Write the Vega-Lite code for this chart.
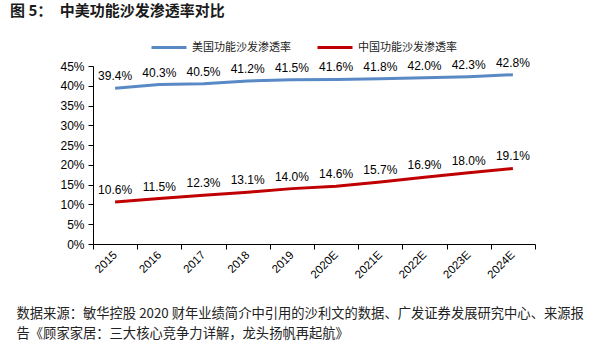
{
  "$schema": "https://vega.github.io/schema/vega-lite/v6.json",
  "width": 442,
  "height": 178,
  "autosize": {"type": "none"},
  "padding": {"left": 93, "top": 66, "right": 65, "bottom": 107},
  "background": "white",
  "config": {
    "font": "Liberation Sans",
    "view": {"stroke": null}
  },
  "title": {
    "text": "图 5：　中美功能沙发渗透率对比",
    "anchor": "start",
    "frame": "group",
    "dx": -83,
    "offset": 10,
    "font": "Noto Sans CJK SC",
    "fontSize": 15,
    "fontWeight": "bold",
    "color": "#1a1a1a"
  },
  "data": {
    "values": [
      {"year": "2015", "series": "美国功能沙发渗透率", "value": 0.394},
      {"year": "2016", "series": "美国功能沙发渗透率", "value": 0.403},
      {"year": "2017", "series": "美国功能沙发渗透率", "value": 0.405},
      {"year": "2018", "series": "美国功能沙发渗透率", "value": 0.412},
      {"year": "2019", "series": "美国功能沙发渗透率", "value": 0.415},
      {"year": "2020E", "series": "美国功能沙发渗透率", "value": 0.416},
      {"year": "2021E", "series": "美国功能沙发渗透率", "value": 0.418},
      {"year": "2022E", "series": "美国功能沙发渗透率", "value": 0.420},
      {"year": "2023E", "series": "美国功能沙发渗透率", "value": 0.423},
      {"year": "2024E", "series": "美国功能沙发渗透率", "value": 0.428},
      {"year": "2015", "series": "中国功能沙发渗透率", "value": 0.106},
      {"year": "2016", "series": "中国功能沙发渗透率", "value": 0.115},
      {"year": "2017", "series": "中国功能沙发渗透率", "value": 0.123},
      {"year": "2018", "series": "中国功能沙发渗透率", "value": 0.131},
      {"year": "2019", "series": "中国功能沙发渗透率", "value": 0.140},
      {"year": "2020E", "series": "中国功能沙发渗透率", "value": 0.146},
      {"year": "2021E", "series": "中国功能沙发渗透率", "value": 0.157},
      {"year": "2022E", "series": "中国功能沙发渗透率", "value": 0.169},
      {"year": "2023E", "series": "中国功能沙发渗透率", "value": 0.180},
      {"year": "2024E", "series": "中国功能沙发渗透率", "value": 0.191}
    ]
  },
  "encoding": {
    "x": {
      "field": "year",
      "type": "ordinal",
      "sort": null,
      "scale": {"type": "band", "paddingInner": 0, "paddingOuter": 0},
      "axis": {
        "tickBand": "extent",
        "labelAngle": -45,
        "labelAlign": "right",
        "labelBaseline": "middle",
        "labelFontSize": 11.5,
        "labelColor": "#000",
        "labelPadding": 4,
        "domainColor": "#000",
        "tickColor": "#000",
        "tickSize": 5,
        "title": ["数据来源：敏华控股 2020 财年业绩简介中引用的沙利文的数据、广发证券发展研究中心、来源报", "告《顾家家居：三大核心竞争力详解，龙头扬帆再起航》"],
        "titleFont": "Noto Sans CJK SC",
        "titleFontSize": 13.3,
        "titleFontWeight": "normal",
        "titleColor": "#222",
        "titleAnchor": "start",
        "titleAlign": "left",
        "titleBaseline": "middle",
        "titleLineHeight": 20,
        "titleX": -77,
        "titleY": 69
      }
    },
    "y": {
      "field": "value",
      "type": "quantitative",
      "scale": {"domain": [0, 0.45], "nice": false},
      "axis": {
        "values": [0, 0.05, 0.1, 0.15, 0.2, 0.25, 0.3, 0.35, 0.4, 0.45],
        "format": ".0%",
        "grid": false,
        "title": null,
        "labelFontSize": 12,
        "labelColor": "#000",
        "labelPadding": 4,
        "domainColor": "#000",
        "tickColor": "#000",
        "tickSize": 5
      }
    },
    "color": {
      "field": "series",
      "type": "nominal",
      "sort": ["美国功能沙发渗透率", "中国功能沙发渗透率"],
      "scale": {"domain": ["美国功能沙发渗透率", "中国功能沙发渗透率"], "range": ["#5A8AC6", "#C00000"]},
      "legend": {
        "title": null,
        "orient": "none",
        "direction": "horizontal",
        "legendX": 57,
        "legendY": -37.5,
        "padding": 0,
        "symbolType": "stroke",
        "symbolSize": 1225,
        "symbolStrokeWidth": 3,
        "labelFont": "Noto Sans CJK SC",
        "labelFontSize": 11,
        "labelColor": "#222",
        "labelOffset": 4,
        "columnPadding": 20
      }
    }
  },
  "layer": [
    {"mark": {"type": "line", "strokeWidth": 3}},
    {
      "mark": {"type": "text", "dy": -12, "fontSize": 12, "color": "#000"},
      "encoding": {
        "text": {"field": "value", "type": "quantitative", "format": ".1%"},
        "color": {"value": "#000"}
      }
    }
  ]
}
